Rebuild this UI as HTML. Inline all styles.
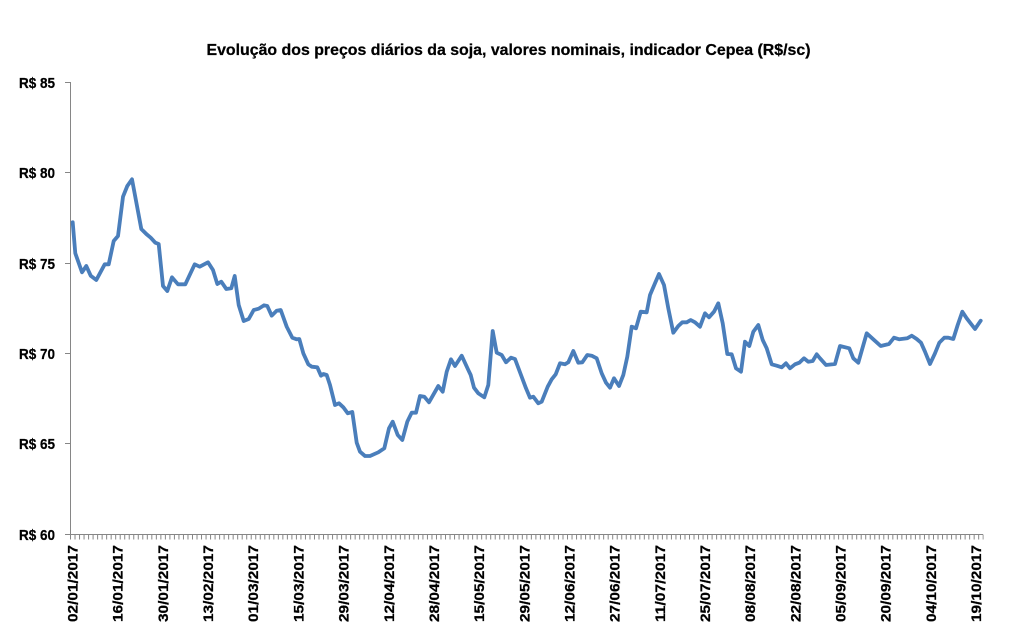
<!DOCTYPE html>
<html><head><meta charset="utf-8"><style>
html,body{margin:0;padding:0;background:#fff;}
svg{display:block;}
text{font-family:"Liberation Sans",sans-serif;font-weight:bold;fill:#000;stroke:#000;stroke-width:0.25;}
</style></head><body>
<svg width="1012" height="631" viewBox="0 0 1012 631" xmlns="http://www.w3.org/2000/svg">
<rect width="1012" height="631" fill="#fff"/>
<text x="206.5" y="55" font-size="16" textLength="604" lengthAdjust="spacingAndGlyphs">Evolução dos preços diários da soja, valores nominais, indicador Cepea (R$/sc)</text>
<g stroke="#868686" stroke-width="1" fill="none">
<line x1="70.5" y1="82" x2="70.5" y2="534.5"/>
<line x1="70" y1="534.5" x2="983" y2="534.5"/>
<line x1="65" y1="82.5" x2="70" y2="82.5"/>
<line x1="65" y1="172.5" x2="70" y2="172.5"/>
<line x1="65" y1="263.5" x2="70" y2="263.5"/>
<line x1="65" y1="353.5" x2="70" y2="353.5"/>
<line x1="65" y1="443.5" x2="70" y2="443.5"/>
<line x1="65" y1="534.5" x2="70" y2="534.5"/>
<line x1="70" y1="537" x2="983.5" y2="537" stroke-width="5" stroke-dasharray="1 3.5183"/>
</g>
<g font-size="15" text-anchor="end">
<text x="55" y="88" textLength="36" lengthAdjust="spacingAndGlyphs">R$ 85</text>
<text x="55" y="178" textLength="36" lengthAdjust="spacingAndGlyphs">R$ 80</text>
<text x="55" y="269" textLength="36" lengthAdjust="spacingAndGlyphs">R$ 75</text>
<text x="55" y="359" textLength="36" lengthAdjust="spacingAndGlyphs">R$ 70</text>
<text x="55" y="449" textLength="36" lengthAdjust="spacingAndGlyphs">R$ 65</text>
<text x="55" y="540" textLength="36" lengthAdjust="spacingAndGlyphs">R$ 60</text>
</g>
<polyline fill="none" stroke="#4A7EBB" stroke-width="3.8" stroke-linejoin="round" stroke-linecap="round" points="72.7,222.3 75.3,253.3 82,272.3 86.3,266 90.7,275.7 96.3,280 104.7,264.3 108.7,264.3 113.7,241 118,236 123,196.7 127.3,186 132,179.3 141.3,229 146.3,234 150.7,237.7 155.3,242.7 158.7,244 163,286 167.3,291 172,277.3 178,284.3 185.3,284.3 194.7,264.3 199.7,266.7 208,262.3 213,270 217.3,284 221.3,281.7 226.3,289 231.3,288.3 234.7,276 238.7,305 243.7,321 248.7,319 253.7,310 258.7,308.7 264,305.3 267.3,306 271.7,315.7 276.7,310.7 280.7,310 286.7,326.7 292.3,337.7 296.7,339.3 299.3,339 303.3,353.3 308.3,364.3 311.7,366.7 317.3,367.3 321,375.7 323.3,374 326.7,375 330,385 335,405 339,403.3 343.3,407.3 347.7,413.3 352.3,412 356.7,442.7 360,451.7 365,456 370,456 378.3,452.3 384.3,448.3 389,428.3 392.7,421.7 397.7,435 402.3,440 407.3,421.7 411.7,412.7 416,412.7 420,396 424.3,396.7 429,402.3 438.3,386 442.7,391.7 446.7,371.7 451,359.3 455,366 461.7,355.7 468.3,370 470.7,375 474,387.7 478.3,393.3 484.3,397.3 488.3,385 492.7,331 496.7,352.7 501.7,355 506,362.3 511,357.7 515,359 521,375 526,388.3 530,397.7 533.3,396.7 538.3,403.3 541.7,401.7 547.7,386.7 551.7,379.3 555.7,374.3 560,363.3 565,364.3 568.3,362.3 573.3,351 578.3,362.7 582.3,362.3 587.3,355 591.7,355.7 596.7,358.3 601.7,373.3 606,382.7 610,387.7 614,378.3 619,386 623.3,375 627.3,356.7 631.7,326.7 636,328.3 640.7,311.7 646.7,312.3 650,295 655,283.3 659,274 664,285 668.3,308.3 673.3,332.7 678.3,326 682.3,322.3 686.7,322.3 690.7,320 695,322.3 700,326.7 705,313.3 709,317.3 714,311.7 718.3,303.3 722.7,323.3 727.3,354 731.7,354.3 736,368.3 741,371.7 745,341.7 749.3,346 753.3,331.7 758.3,325 762.7,340 766.7,348.3 771.7,364.3 776.7,365.7 781.7,367.3 786,363.3 790,368.3 795,364.3 799.3,362.7 804,358.3 808.3,361.7 812.7,361 816.7,354.3 820,358.3 826,365 835,364 840,346 849.3,348.3 853.3,358.3 858.3,362.7 866.7,333.3 873.3,339.3 880.7,346 889,344 894,337.7 899.3,339.3 907.3,338.3 911.7,335.7 916.7,339 921,342.7 925,351.7 930,364 935,353.3 939.3,342.7 944.3,337.7 948.3,337.7 953.3,339 957.7,325 962.3,311.7 966.7,318.3 975,329 980.7,320.7"/>
<g font-size="14" text-anchor="end">
<text transform="translate(77.5,545) rotate(-90)" textLength="77" lengthAdjust="spacingAndGlyphs">02/01/2017</text>
<text transform="translate(122.7,545) rotate(-90)" textLength="77" lengthAdjust="spacingAndGlyphs">16/01/2017</text>
<text transform="translate(167.9,545) rotate(-90)" textLength="77" lengthAdjust="spacingAndGlyphs">30/01/2017</text>
<text transform="translate(213.0,545) rotate(-90)" textLength="77" lengthAdjust="spacingAndGlyphs">13/02/2017</text>
<text transform="translate(258.2,545) rotate(-90)" textLength="77" lengthAdjust="spacingAndGlyphs">01/03/2017</text>
<text transform="translate(303.4,545) rotate(-90)" textLength="77" lengthAdjust="spacingAndGlyphs">15/03/2017</text>
<text transform="translate(348.6,545) rotate(-90)" textLength="77" lengthAdjust="spacingAndGlyphs">29/03/2017</text>
<text transform="translate(393.8,545) rotate(-90)" textLength="77" lengthAdjust="spacingAndGlyphs">12/04/2017</text>
<text transform="translate(438.9,545) rotate(-90)" textLength="77" lengthAdjust="spacingAndGlyphs">28/04/2017</text>
<text transform="translate(484.1,545) rotate(-90)" textLength="77" lengthAdjust="spacingAndGlyphs">15/05/2017</text>
<text transform="translate(529.3,545) rotate(-90)" textLength="77" lengthAdjust="spacingAndGlyphs">29/05/2017</text>
<text transform="translate(574.5,545) rotate(-90)" textLength="77" lengthAdjust="spacingAndGlyphs">12/06/2017</text>
<text transform="translate(619.7,545) rotate(-90)" textLength="77" lengthAdjust="spacingAndGlyphs">27/06/2017</text>
<text transform="translate(664.8,545) rotate(-90)" textLength="77" lengthAdjust="spacingAndGlyphs">11/07/2017</text>
<text transform="translate(710.0,545) rotate(-90)" textLength="77" lengthAdjust="spacingAndGlyphs">25/07/2017</text>
<text transform="translate(755.2,545) rotate(-90)" textLength="77" lengthAdjust="spacingAndGlyphs">08/08/2017</text>
<text transform="translate(800.4,545) rotate(-90)" textLength="77" lengthAdjust="spacingAndGlyphs">22/08/2017</text>
<text transform="translate(845.6,545) rotate(-90)" textLength="77" lengthAdjust="spacingAndGlyphs">05/09/2017</text>
<text transform="translate(890.7,545) rotate(-90)" textLength="77" lengthAdjust="spacingAndGlyphs">20/09/2017</text>
<text transform="translate(935.9,545) rotate(-90)" textLength="77" lengthAdjust="spacingAndGlyphs">04/10/2017</text>
<text transform="translate(981.1,545) rotate(-90)" textLength="77" lengthAdjust="spacingAndGlyphs">19/10/2017</text>
</g>
</svg>
</body></html>
